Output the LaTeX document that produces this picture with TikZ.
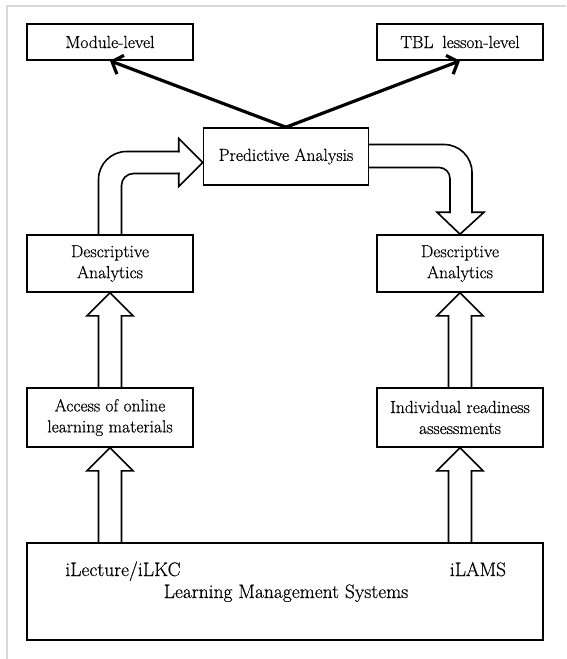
\documentclass[tikz,border=0pt]{standalone}
\usepackage{fontspec}
\setmainfont{Latin Modern Roman}[FakeBold=0.5]
\usetikzlibrary{arrows.meta,calc}

\newcommand{\hollowup}[2]{%
  \draw[hollow] ($(#1)+(-11.5,0)$) -- ($(#2)+(-11.5,23)$) -- ($(#2)+(-23,23)$) -- (#2)
    -- ($(#2)+(23,23)$) -- ($(#2)+(11.5,23)$) -- ($(#1)+(11.5,0)$);}

\begin{document}
\begin{tikzpicture}[x=1pt, y=-1pt,
    box/.style={draw, line width=1.6pt, minimum width=166pt, align=center, font=\fontsize{17.5}{21}\selectfont},
    lmstext/.style={anchor=base, inner sep=0pt, font=\fontsize{19.5}{24}\selectfont},
    hollow/.style={draw, line width=1.6pt, line cap=rect},
    spoke/.style={line width=3.2pt, -{Straight Barb[length=9pt,width=20pt]}}]
  \useasboundingbox (0,0) rectangle (566,659);
  \draw[black!15, line width=2.5pt] (7,659) -- (7,6) -- (566,6);

  \node[box, minimum height=36pt] (mod) at (110,42) {Module-level};
  \node[box, minimum height=36pt] (tbl) at (460,42) {TBL\enspace lesson-level};
  \node[box, minimum width=165pt, minimum height=57pt] (pred) at (286,156.5) {Predictive Analysis};
  \node[box, minimum height=57pt] (desc1) at (110,263.5) {Descriptive\\Analytics};
  \node[box, minimum height=57pt] (desc2) at (460,263.5) {Descriptive\\Analytics};
  \node[box, minimum height=59pt] (acc) at (110,417.5) {Access of online\\learning materials};
  \node[box, minimum height=59pt] (ind) at (460,417.5) {Individual readiness\\assessments};
  \node[box, minimum width=516pt, minimum height=97pt] (lms) at (285,591.5) {};
  \node[lmstext] (ilec) at (123,576) {iLecture/iLKC};
  \node[lmstext] (ilams) at (478,576) {iLAMS};
  \node[lmstext] (lmsname) at (286,598) {Learning Management Systems};

  % outputs
  \draw[spoke] (pred.north) -- (mod.south);
  \draw[spoke] (pred.north) -- (tbl.south);

  % upward block arrows
  \coordinate (a1) at (acc.south |- lms.north);
  \coordinate (a2) at (ind.south |- lms.north);
  \hollowup{a1}{acc.south}
  \hollowup{acc.north}{desc1.south}
  \hollowup{a2}{ind.south}
  \hollowup{ind.north}{desc2.south}

  % bent block arrow, left
  \draw[hollow, rounded corners=28] ($(desc1.north)+(-11.5,0)$) |- ($(pred.west)+(-24,-5)$);
  \draw[hollow] ($(pred.west)+(-24,-5)$) -- ($(pred.west)+(-24,-18)$) -- ($(pred.west)+(0,6)$)
    -- ($(pred.west)+(-24,30)$) -- ($(pred.west)+(-24,17)$);
  \draw[hollow, rounded corners=12] ($(pred.west)+(-24,17)$) -| ($(desc1.north)+(11.5,0)$);

  % bent block arrow, right
  \draw[hollow, rounded corners=28] ($(pred.east)+(0,-12)$) -| ($(desc2.north)+(12,-22)$);
  \draw[hollow] ($(desc2.north)+(12,-22)$) -- ($(desc2.north)+(24,-22)$) -- (desc2.north)
    -- ($(desc2.north)+(-23,-22)$) -- ($(desc2.north)+(-10,-22)$);
  \draw[hollow, rounded corners=11] ($(desc2.north)+(-10,-22)$) |- ($(pred.east)+(0,11)$);
\end{tikzpicture}
\end{document}
